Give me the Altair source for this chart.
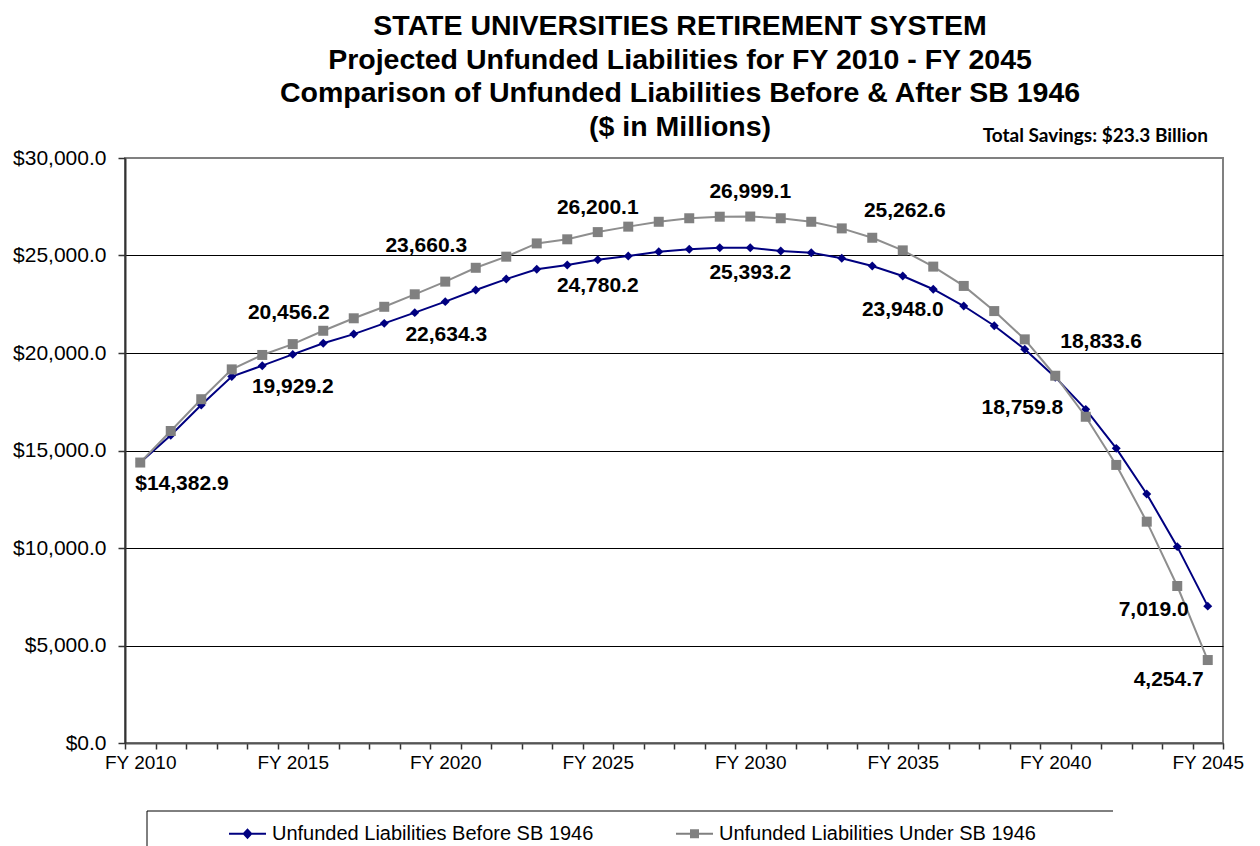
import altair as alt
import pandas as pd

# ---------------- data ----------------
years = list(range(2010, 2046))

before_sb1946 = [
    14382.9, 15780.0, 17330.0, 18790.0, 19350.0, 19929.2, 20500.0, 20970.0, 21520.0, 22070.0,
    22634.3, 23230.0, 23790.0, 24290.0, 24510.0, 24780.2, 24970.0, 25190.0, 25320.0, 25400.0,
    25393.2, 25230.0, 25140.0, 24860.0, 24460.0, 23948.0, 23270.0, 22410.0, 21400.0, 20190.0,
    18759.8, 17110.0, 15110.0, 12770.0, 10070.0, 7019.0,
]

under_sb1946 = [
    14382.9, 16000.0, 17630.0, 19160.0, 19900.0, 20456.2, 21140.0, 21780.0, 22370.0, 23010.0,
    23660.3, 24370.0, 24940.0, 25620.0, 25830.0, 26200.1, 26480.0, 26730.0, 26910.0, 26990.0,
    26999.1, 26910.0, 26730.0, 26390.0, 25910.0, 25262.6, 24430.0, 23440.0, 22150.0, 20700.0,
    18833.6, 16730.0, 14260.0, 11350.0, 8050.0, 4254.7,
]

series_names = [
    "Unfunded Liabilities Before SB 1946",
    "Unfunded Liabilities Under SB 1946",
]

title_lines = [
    "STATE UNIVERSITIES RETIREMENT SYSTEM",
    "Projected  Unfunded  Liabilities  for  FY 2010 - FY 2045",
    "Comparison  of  Unfunded  Liabilities  Before  &  After  SB 1946",
    "($ in Millions)",
]
savings_note = ["Total Savings: $23.3 Billion"]

y_tick_values = [0, 5000, 10000, 15000, 20000, 25000, 30000]

df = pd.DataFrame({
    "year": years + years,
    "value": before_sb1946 + under_sb1946,
    "series": [series_names[0]] * len(years) + [series_names[1]] * len(years),
})

# ---------------- styles ----------------
NAVY = "#000080"
GRAY = "#808080"
GRAY_LINE = "#8e8e8e"
FONT = "Liberation Sans"
BAND = 1098 / 36.0

x_tick_values = [y - 0.5 for y in years] + [years[-1] + 0.5]

x_enc = alt.X(
    "year:Q",
    scale=alt.Scale(domain=[years[0] - 0.5, years[-1] + 0.5], nice=False, zero=False),
    axis=alt.Axis(
        values=x_tick_values,
        labelExpr="(datum.value + 0.5) % 5 == 0 ? 'FY ' + (datum.value + 0.5) : ''",
        labelOffset=BAND / 2,
        labelOverlap=False,
        labelFlush=False,
        tickSize=6,
        tickWidth=1.5,
        tickColor="#333333",
        domainColor="#555555",
        domainWidth=2,
        labelFont=FONT,
        labelFontSize=19,
        labelColor="black",
        labelPadding=4,
        grid=False,
        title=None,
    ),
)

y_enc = alt.Y(
    "value:Q",
    scale=alt.Scale(domain=[0, 30000], nice=False),
    axis=alt.Axis(
        values=y_tick_values,
        format="$,.1f",
        grid=True,
        gridColor={"condition": {"test": "datum.value >= 30000", "value": GRAY}, "value": "black"},
        gridWidth=1,
        tickSize=7,
        tickWidth=1.5,
        tickColor="#333333",
        domainColor="#333333",
        domainWidth=2,
        labelFont=FONT,
        labelFontSize=21,
        labelColor="black",
        labelPadding=12,
        title=None,
    ),
)

base = alt.Chart(df)

def series_filter(name):
    return alt.datum.series == name

line_b = base.transform_filter(series_filter(series_names[0])).mark_line(
    color=NAVY, strokeWidth=2
).encode(x=x_enc, y=y_enc)
pts_b = base.transform_filter(series_filter(series_names[0])).mark_point(
    shape="diamond", filled=True, size=80, color=NAVY, opacity=1
).encode(x=x_enc, y=y_enc)
line_g = base.transform_filter(series_filter(series_names[1])).mark_line(
    color=GRAY_LINE, strokeWidth=2
).encode(x=x_enc, y=y_enc)
pts_g = base.transform_filter(series_filter(series_names[1])).mark_point(
    shape="square", filled=True, size=100, color=GRAY, opacity=1
).encode(x=x_enc, y=y_enc)

# data labels: (series index, year, align, dx, dy, format)
label_specs = [
    (0, 2010, "left", -5, 21, "$,.1f"),
    (1, 2015, "center", -4, -31, ",.1f"),
    (1, 2020, "center", -19, -36, ",.1f"),
    (1, 2025, "center", 0, -24, ",.1f"),
    (1, 2030, "center", 0, -25, ",.1f"),
    (1, 2035, "center", 2, -39, ",.1f"),
    (1, 2040, "left", 5, -34, ",.1f"),
    (1, 2045, "right", -4, 20, ",.1f"),
    (0, 2015, "center", 0, 33, ",.1f"),
    (0, 2020, "center", 1, 33, ",.1f"),
    (0, 2025, "center", 0, 26, ",.1f"),
    (0, 2030, "center", 0, 25, ",.1f"),
    (0, 2035, "center", 0, 34, ",.1f"),
    (0, 2040, "right", 8, 31, ",.1f"),
    (0, 2045, "right", -19, 4, ",.1f"),
]

label_layers = []
for si, yr, al, dx, dy, fmt in label_specs:
    label_layers.append(
        base.transform_filter(
            (alt.datum.series == series_names[si]) & (alt.datum.year == yr)
        ).mark_text(
            align=al, baseline="middle", dx=dx, dy=dy,
            font=FONT, fontSize=21, fontWeight="bold", color="black",
        ).encode(x=x_enc, y=y_enc, text=alt.Text("value:Q", format=fmt))
    )

# legend (built from scales on an empty layer)
path_diamond = "M-1,0L1,0M-0.2,0L0,-0.22L0.2,0L0,0.22Z"
path_square = "M-1,0L1,0M-0.19,-0.19L0.19,-0.19L0.19,0.19L-0.19,0.19Z"

leg_def = alt.Legend(
    title=None,
    orient="none",
    legendX=103,
    legendY=656,
    direction="horizontal",
    symbolSize=1369,
    symbolStrokeWidth=2,
    labelFont=FONT,
    labelFontSize=20,
    labelColor="black",
    labelOffset=5,
    labelLimit=500,
    columnPadding=78,
)

legend_layer = base.transform_filter("false").mark_point(
    filled=True, strokeWidth=2, opacity=1
).encode(
    x=x_enc,
    y=y_enc,
    shape=alt.Shape("series:N", scale=alt.Scale(domain=series_names, range=[path_diamond, path_square]), legend=leg_def),
    fill=alt.Fill("series:N", scale=alt.Scale(domain=series_names, range=[NAVY, GRAY]), legend=leg_def),
    stroke=alt.Stroke("series:N", scale=alt.Scale(domain=series_names, range=[NAVY, GRAY]), legend=leg_def),
)

frame_df = pd.DataFrame({"k": [0]})
frame_top = alt.Chart(frame_df).mark_rule(color="black", strokeWidth=1).encode(
    x=alt.value(22), x2=alt.value(988), y=alt.value(653)
)
frame_left = alt.Chart(frame_df).mark_rule(color="black", strokeWidth=1).encode(
    x=alt.value(22), y=alt.value(653), y2=alt.value(720)
)

note = alt.Chart(pd.DataFrame({"t": savings_note})).mark_text(
    align="right", baseline="alphabetic", font="Lato", fontSize=19, fontWeight="bold", color="black"
).encode(x=alt.value(1083), y=alt.value(-16), text="t:N")

chart = alt.layer(
    line_b, pts_b, line_g, pts_g, *label_layers, legend_layer, frame_top, frame_left, note
).properties(
    width=1098,
    height=585,
    autosize=alt.AutoSizeParams(type="none"),
    padding={"left": 117, "top": 150, "right": 29, "bottom": 115},
    title=alt.TitleParams(
        text=title_lines,
        font=FONT,
        fontSize=28.5,
        fontWeight="bold",
        color="black",
        anchor="middle",
        lineHeight=33.5,
        offset=-14,
        dx=6,
    ),
).configure_view(stroke=GRAY, strokeWidth=2)

chart.save("out.html", embed_options={"renderer": "svg", "actions": False})
